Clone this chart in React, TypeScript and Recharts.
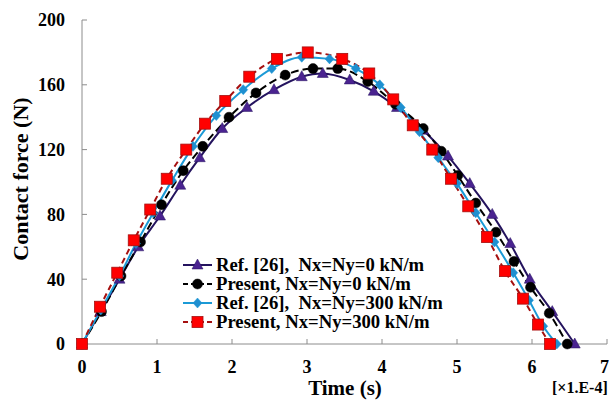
import React from "react";
import { Legend, Line, LineChart, XAxis, YAxis } from "recharts";

const timeTicks = [0, 1, 2, 3, 4, 5, 6, 7];
const forceTicks = [0, 40, 80, 120, 160, 200];

// Ref. [26], Nx=Ny=0
const ref0Time = [0, 0.25, 0.5, 0.75, 1.04, 1.31, 1.57, 1.87, 2.2, 2.56, 2.93, 3.21, 3.57, 3.89, 4.2, 4.55, 4.88, 5.17, 5.47, 5.71, 5.97, 6.27, 6.57];
const ref0Force = [0, 20, 40, 60, 79, 98, 115, 133, 146, 157, 165, 167, 163, 156, 146, 132, 116, 99, 80, 62, 40, 20, 0];

// Present, Nx=Ny=0
const pre0Time = [0, 0.26, 0.52, 0.78, 1.06, 1.35, 1.61, 1.96, 2.32, 2.71, 3.08, 3.41, 3.81, 4.18, 4.55, 4.79, 5.01, 5.25, 5.52, 5.76, 5.98, 6.23, 6.47];
const pre0Force = [0, 20, 42, 63, 86, 107, 122, 140, 155, 166, 170, 170, 162, 148, 133, 119, 104, 87, 69, 51, 35, 19, 0];

// Ref. [26], Nx=Ny=300
const ref300Time = [0, 0.25, 0.5, 0.72, 0.95, 1.2, 1.48, 1.79, 2.15, 2.53, 2.93, 3.3, 3.65, 3.97, 4.25, 4.5, 4.75, 5.0, 5.25, 5.5, 5.75, 5.96, 6.15, 6.33];
const ref300Force = [0, 21, 42, 62, 81, 101, 122, 141, 157, 170, 177, 176, 170, 160, 146, 131, 115, 99, 81, 63, 44, 27, 11, 0];

// Present, Nx=Ny=300
const pre300Time = [0, 0.24, 0.47, 0.69, 0.91, 1.13, 1.39, 1.64, 1.91, 2.23, 2.6, 3.01, 3.47, 3.83, 4.15, 4.41, 4.67, 4.92, 5.15, 5.4, 5.64, 5.88, 6.08, 6.24];
const pre300Force = [0, 23, 44, 64, 83, 102, 120, 136, 150, 165, 176, 180, 176, 167, 151, 135, 120, 102, 85, 66, 45, 28, 12, 0];

const seriesNames = [
  "Ref. [26],\u00a0\u00a0Nx=Ny=0 kN/m",
  "Present, Nx=Ny=0 kN/m",
  "Ref. [26],\u00a0\u00a0Nx=Ny=300 kN/m",
  "Present, Nx=Ny=300 kN/m",
];

const zip = (t: number[], f: number[]) => t.map((x, i) => ({ t: x, f: f[i] }));

const FONT = "'Liberation Serif', 'Times New Roman', serif";
const AXIS = "#8c8c8c";

type Shape = "triangle" | "circle" | "diamond" | "square";

function marker(shape: Shape, cx: number, cy: number, fill: string, stroke: string, key?: string | number) {
  if (shape === "triangle") {
    return <path key={key} d={`M${cx},${cy - 6}L${cx + 5.5},${cy + 4}L${cx - 5.5},${cy + 4}Z`} fill={fill} stroke={stroke} strokeWidth={0.5} />;
  }
  if (shape === "circle") {
    return <circle key={key} cx={cx} cy={cy} r={5} fill={fill} stroke={stroke} strokeWidth={0.5} />;
  }
  if (shape === "diamond") {
    return <path key={key} d={`M${cx},${cy - 5}L${cx + 4.5},${cy}L${cx},${cy + 5}L${cx - 4.5},${cy}Z`} fill={fill} stroke={stroke} strokeWidth={0.5} />;
  }
  return <rect key={key} x={cx - 5.5} y={cy - 5.5} width={11} height={11} fill={fill} stroke={stroke} strokeWidth={0.8} />;
}

const series = [
  { name: seriesNames[0], data: zip(ref0Time, ref0Force), stroke: "#24135e", fill: "#4a2390", dash: undefined, shape: "triangle" as Shape },
  { name: seriesNames[1], data: zip(pre0Time, pre0Force), stroke: "#000000", fill: "#000000", dash: "8 4", shape: "circle" as Shape },
  { name: seriesNames[2], data: zip(ref300Time, ref300Force), stroke: "#1b9ad6", fill: "#1f8fd0", dash: undefined, shape: "diamond" as Shape },
  { name: seriesNames[3], data: zip(pre300Time, pre300Force), stroke: "#a50f0f", fill: "#ff0000", dash: "6 4", shape: "square" as Shape },
];

function LegendBox() {
  return (
    <div style={{ fontFamily: FONT, fontWeight: "bold", fontSize: 18.7, color: "#000", lineHeight: "19px" }}>
      {series.map((s) => (
        <div key={s.name} style={{ display: "flex", alignItems: "center", whiteSpace: "nowrap", height: 19 }}>
          <svg width={32} height={14} style={{ marginRight: 2 }}>
            <line x1={1} y1={7} x2={30} y2={7} stroke={s.stroke} strokeWidth={2} strokeDasharray={s.dash ? "5 3" : undefined} />
            {marker(s.shape, 15.5, 7, s.fill, s.stroke)}
          </svg>
          <span>{s.name}</span>
        </div>
      ))}
    </div>
  );
}

export default function App() {
  return (
    <div style={{ position: "absolute", left: 0, top: 0, background: "#fff" }}>
      <LineChart width={609} height={401} margin={{ top: 20, right: 2, left: 0, bottom: 0 }}>
        <XAxis
          dataKey="t"
          type="number"
          domain={[0, 7]}
          ticks={timeTicks}
          allowDuplicatedCategory={false}
          height={57}
          stroke={AXIS}
          tickSize={-5}
          tickMargin={21}
          tick={{ fill: "#000", fontSize: 18, fontWeight: "bold", fontFamily: FONT }}
          label={{
            content: () => (
              <g fontFamily={FONT} fontWeight="bold" fill="#000">
                <text x={345} y={395} fontSize={21} textAnchor="middle">Time (s)</text>
                <text x={552} y={393} fontSize={16}>[×1.E-4]</text>
              </g>
            ),
          }}
        />
        <XAxis xAxisId="top" orientation="top" type="number" domain={[0, 7]} height={0} tick={false} tickLine={false} stroke={AXIS} />
        <YAxis
          type="number"
          domain={[0, 200]}
          ticks={forceTicks}
          width={82}
          stroke={AXIS}
          tickSize={-5}
          tickMargin={22}
          tick={{ fill: "#000", fontSize: 18, fontWeight: "bold", fontFamily: FONT }}
          label={{
            content: () => (
              <text
                x={28}
                y={179}
                transform="rotate(-90 28 179)"
                textAnchor="middle"
                fontFamily={FONT}
                fontWeight="bold"
                fontSize={22}
                fill="#000"
              >
                Contact force (N)
              </text>
            ),
          }}
        />
        <YAxis yAxisId="right" orientation="right" type="number" domain={[0, 200]} width={0} tick={false} tickLine={false} stroke={AXIS} />
        {series.map((s) => (
          <Line
            key={s.name}
            data={s.data}
            dataKey="f"
            name={s.name}
            type="monotone"
            stroke={s.stroke}
            strokeWidth={2}
            strokeDasharray={s.dash}
            isAnimationActive={false}
            dot={(p: any) =>
              p.cx == null || p.cy == null ? <g key={p.index} /> : marker(s.shape, p.cx, p.cy, s.fill, s.stroke, p.index)
            }
            activeDot={false}
          />
        ))}
        <Legend
          layout="vertical"
          align="center"
          verticalAlign="middle"
          content={() => <LegendBox />}
          wrapperStyle={{ left: 182, top: 255, width: "auto", height: "auto" }}
        />
      </LineChart>
    </div>
  );
}
